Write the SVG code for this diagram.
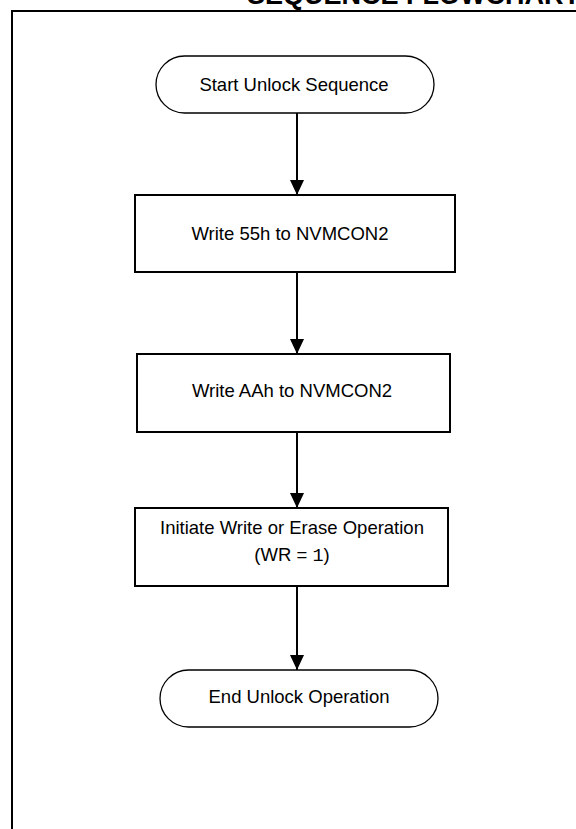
<svg xmlns="http://www.w3.org/2000/svg" width="576" height="829" viewBox="0 0 576 829">
<style>
.t{font-family:"Liberation Sans",Arial,sans-serif;font-size:18.5px;fill:#000;text-anchor:middle}
.term{fill:#fff;stroke:#000;stroke-width:1.3}
.box{fill:#fff;stroke:#000;stroke-width:2}
.c{stroke:#000;stroke-width:2;fill:none}
</style>
<defs>
<marker id="ah" markerUnits="userSpaceOnUse" markerWidth="16" markerHeight="14" refX="15" refY="7" orient="auto">
<path d="M0,0 L15,7 L0,14 Z" fill="#000"/>
</marker>
</defs>
<rect width="576" height="829" fill="#fff"/>
<g id="frame">
<text x="247" y="4" style="font-family:'Liberation Sans',Arial,sans-serif;font-weight:bold;font-size:27px">SEQUENCE FLOWCHART</text>
<path d="M12,829 V11 H576" fill="none" stroke="#000" stroke-width="2"/>
</g>
<g id="connectors">
<line class="c" x1="297" y1="113" x2="297" y2="195" marker-end="url(#ah)"/>
<line class="c" x1="297" y1="272" x2="297" y2="354" marker-end="url(#ah)"/>
<line class="c" x1="297" y1="432" x2="297" y2="508" marker-end="url(#ah)"/>
<line class="c" x1="297" y1="586" x2="297" y2="670" marker-end="url(#ah)"/>
</g>
<g id="start">
<rect class="term" x="156" y="56" width="278" height="57" rx="28.5"/>
<text class="t" x="294" y="91">Start Unlock Sequence</text>
</g>
<g id="write55">
<rect class="box" x="135" y="195" width="320" height="77"/>
<text class="t" x="290" y="240">Write 55h to NVMCON2</text>
</g>
<g id="writeAA">
<rect class="box" x="137" y="354" width="313" height="78"/>
<text class="t" x="292" y="397">Write AAh to NVMCON2</text>
</g>
<g id="initiate">
<rect class="box" x="135" y="508" width="313" height="78"/>
<text class="t" x="292" y="534">Initiate Write or Erase Operation</text>
<text class="t" x="292" y="561">(WR = <tspan style="font-family:'Liberation Mono','Courier New',monospace">1</tspan>)</text>
</g>
<g id="end">
<rect class="term" x="160" y="670" width="278" height="57" rx="28.5"/>
<text class="t" x="299" y="703">End Unlock Operation</text>
</g>
</svg>
